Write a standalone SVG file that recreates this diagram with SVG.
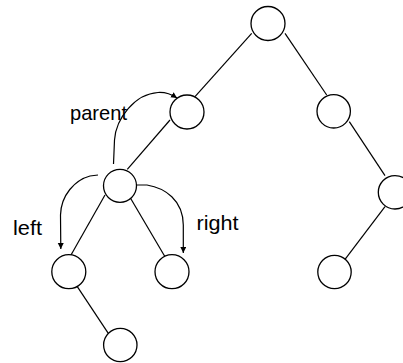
<svg xmlns="http://www.w3.org/2000/svg" width="403" height="363" viewBox="0 0 403 363">
<style>
.node{fill:#fff;stroke:#000;stroke-width:1.3}
.edge{stroke:#000;stroke-width:1.2;fill:none}
.ptr{stroke:#000;stroke-width:1.2;fill:none;marker-end:url(#ah)}
.lbl{font-family:"Liberation Sans",Arial,sans-serif;font-size:21px;fill:#000}
</style>
<defs>
<marker id="ah" markerUnits="userSpaceOnUse" markerWidth="8" markerHeight="8" refX="6" refY="3" orient="auto">
<path d="M0,0 L6,3 L0,6 Z" fill="#000"/>
</marker>
</defs>
<rect width="403" height="363" fill="#fff"/>
<g id="connectors">
<line class="edge" x1="251.7" y1="33.3" x2="195" y2="96.7"/>
<line class="edge" x1="285" y1="33.3" x2="326.7" y2="95"/>
<line class="edge" x1="170" y1="120" x2="127.3" y2="169.3"/>
<line class="edge" x1="349.3" y1="121.7" x2="385" y2="175.7"/>
<line class="edge" x1="105" y1="195" x2="70" y2="256.7"/>
<line class="edge" x1="127.3" y1="192.7" x2="165" y2="256.7"/>
<line class="edge" x1="385" y1="206.7" x2="345" y2="259.3"/>
<line class="edge" x1="77.3" y1="286.7" x2="108.3" y2="333.3"/>
<path class="ptr" d="M113.5,164 L114.5,140 C116,118 135,94 158,92.5 C166,92 171,94 177,98"/>
<path class="ptr" d="M98,175 L90,176 C75,180 61,195 60.5,215 L60.8,249"/>
<path class="ptr" d="M137,185 L147,185 C165,188 183,200 183.3,225 L183.3,253"/>
</g>
<g id="n-root"><circle class="node" cx="268" cy="23.5" r="17"/></g>
<g id="n-a"><circle class="node" cx="187" cy="112" r="17"/></g>
<g id="n-b"><circle class="node" cx="333.7" cy="111.3" r="16.7"/></g>
<g id="n-c"><circle class="node" cx="120" cy="185.8" r="16.5"/></g>
<g id="n-d"><circle class="node" cx="395" cy="192.3" r="16.7"/></g>
<g id="n-e"><circle class="node" cx="68.8" cy="271.7" r="17"/></g>
<g id="n-f"><circle class="node" cx="172" cy="271.7" r="17"/></g>
<g id="n-g"><circle class="node" cx="334.5" cy="272" r="16.7"/></g>
<g id="n-h"><circle class="node" cx="120.3" cy="345" r="16.7"/></g>
<g id="labels">
<text class="lbl" x="70" y="120" textLength="57" lengthAdjust="spacingAndGlyphs">parent</text>
<text class="lbl" x="13" y="235" textLength="29" lengthAdjust="spacingAndGlyphs">left</text>
<text class="lbl" x="196.5" y="229.5" textLength="42" lengthAdjust="spacingAndGlyphs">right</text>
</g>
</svg>
